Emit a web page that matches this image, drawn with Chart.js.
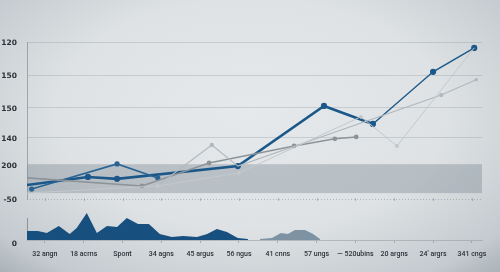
<!DOCTYPE html>
<html>
<head>
<meta charset="utf-8">
<script src="https://cdn.jsdelivr.net/npm/chart.js@4.4.0/dist/chart.umd.min.js"></script>
<style>
  html, body { margin: 0; padding: 0; width: 500px; height: 272px; overflow: hidden; }
  body { background: radial-gradient(ellipse 78% 85% at 50% 42%, #e6e9eb 0%, #dee2e4 50%, #c4cacf 82%, #9ca5ab 100%); }
</style>
</head>
<body>
<canvas id="chart" width="500" height="272"></canvas>
<script>
// axis labels
const xLabels = ['32 angn', '18 acrns', 'Spont', '34 agns', '45 argus', '56 ngus', '41 cnns', '57 ungs', '\u2014 520ubins', '20 argns', "24' argrs", '341 cngs'];
const yLabels = ['-50', '200', '140', '150', '150', '120'];
const yTickVals = [0, 1.1, 1.98, 2.94, 3.98, 5.06];
const bandRange = [0.19, 1.1];

// upper line series (x = category position, y = value)
const mainX = [-0.46, 1.11, 1.86, 4.97, 7.19, 8.45, 10.0, 11.06];
const mainY = [0.45, 0.71, 0.65, 1.06, 3.0, 2.42, 4.1, 4.87];
const blueX = [-0.34, 1.86, 2.91];
const blueY = [0.32, 1.13, 0.68];
const greyX = [-0.46, 2.5, 4.23, 6.42, 7.47, 8.02];
const greyY = [0.68, 0.42, 1.16, 1.71, 1.94, 2.0];
const lightX = [2.89, 4.3, 4.97, 10.21, 11.11];
const lightY = [0.42, 1.74, 1.06, 3.35, 3.84];
const paleX = [-0.46, 2.91, 5.0, 8.14, 9.07, 11.06];
const paleY = [0.19, 0.42, 0.84, 2.65, 1.71, 4.87];

// lower area series
const areaX = [-0.46, -0.18, 0.05, 0.36, 0.64, 0.82, 1.08, 1.34, 1.6, 1.86, 2.11, 2.4, 2.68, 2.96, 3.27, 3.56, 3.92, 4.18, 4.43, 4.69, 4.97, 5.23];
const areaY = [9, 9, 7, 14, 6, 12, 27, 7, 14, 13, 22, 16, 16, 6, 3, 4, 3, 6, 11, 8, 2, 1];
const shadowX = [5.54, 5.85, 6.08, 6.26, 6.44, 6.7, 6.91, 7.09];
const shadowY = [1, 2, 7, 6, 10, 10, 6, 1];

const pts = (xs, ys) => xs.map((x, i) => ({ x: x, y: ys[i] }));

const decor = {
  id: 'decor',
  beforeDatasetsDraw(chart) {
    const { ctx, scales } = chart;
    const x = scales.x, y = scales.y, y2 = scales.y2;
    ctx.save();
    // band
    const top = y.getPixelForValue(bandRange[1]);
    const bot = y.getPixelForValue(bandRange[0]);
    ctx.fillStyle = 'rgba(128,140,152,0.42)';
    ctx.fillRect(x.left, top, x.right - x.left, bot - top);
    // dotted base line of upper plot
    const base = y.getPixelForValue(0);
    ctx.strokeStyle = 'rgba(140,150,158,0.6)';
    ctx.lineWidth = 1;
    ctx.setLineDash([1, 2]);
    ctx.beginPath();
    ctx.moveTo(x.left, base + 0.5);
    ctx.lineTo(x.right, base + 0.5);
    ctx.stroke();
    ctx.setLineDash([]);
    xLabels.forEach((l, i) => {
      const px = Math.round(x.getPixelForValue(i)) + 0.5;
      ctx.beginPath();
      ctx.moveTo(px, base - 1);
      ctx.lineTo(px, base + 2);
      ctx.stroke();
    });
    // short left axis of lower plot
    ctx.strokeStyle = 'rgba(110,120,128,0.7)';
    ctx.beginPath();
    ctx.moveTo(x.left + 0.5, y2.getPixelForValue(22));
    ctx.lineTo(x.left + 0.5, y2.getPixelForValue(0));
    ctx.stroke();
    ctx.restore();
  }
};

const lineStyle = (color, width, radius) => ({
  type: 'line',
  yAxisID: 'y',
  borderColor: color,
  backgroundColor: color,
  borderWidth: width,
  pointRadius: radius,
  pointHoverRadius: radius,
  tension: 0,
  fill: false
});

new Chart(document.getElementById('chart'), {
  type: 'line',
  data: {
    datasets: [
      Object.assign(lineStyle('#c2c8cc', 1, 1.5), { data: pts(paleX, paleY), pointRadius: [0, 1.5, 1.5, 1.5, 1.6, 0] }),
      Object.assign(lineStyle('#b1b8bd', 1.1, 1.5), { data: pts(lightX, lightY), pointRadius: [0, 1.6, 0, 1.6, 1.2] }),
      Object.assign(lineStyle('#8d9499', 1.6, 1.6), { data: pts(greyX, greyY), pointRadius: [0, 1.6, 1.6, 1.6, 1.6, 1.6] }),
      Object.assign(lineStyle('#2a6494', 1.6, 1.8), { data: pts(blueX, blueY) }),
      Object.assign(lineStyle('#1b5889', 2.4, 1.8), {
        data: pts(mainX, mainY),
        pointRadius: [0, 1.9, 1.9, 1.9, 1.9, 1.9, 1.9, 1.9],
        segment: { borderWidth: c => c.p0DataIndex >= 5 ? 1.4 : 2.6 }
      }),
      {
        type: 'line', yAxisID: 'y2', data: pts(shadowX, shadowY),
        borderWidth: 0, pointRadius: 0, tension: 0,
        backgroundColor: '#7d93a4', fill: 'origin'
      },
      {
        type: 'line', yAxisID: 'y2', data: pts(areaX, areaY),
        borderWidth: 0, pointRadius: 0, tension: 0,
        backgroundColor: '#17507f', fill: 'origin'
      }
    ]
  },
  plugins: [decor],
  options: {
    responsive: false,
    animation: false,
    layout: { padding: { top: 42, right: 18, left: 0, bottom: 0 } },
    plugins: { legend: { display: false }, tooltip: { enabled: false } },
    scales: {
      x: {
        type: 'linear', min: -0.46, max: 11.26,
        afterBuildTicks: s => { s.ticks = xLabels.map((l, i) => ({ value: i })); },
        afterFit: s => { s.height = 32; },
        ticks: {
          autoSkip: false, maxRotation: 0, padding: 7,
          color: '#2b3237',
          font: { family: 'Roboto', size: 7, weight: '500' },
          callback: v => xLabels[v]
        },
        grid: { drawOnChartArea: false, drawTicks: true, tickLength: 3, color: 'rgba(130,140,148,0.6)' },
        border: { color: 'rgba(150,160,166,0.6)' }
      },
      y2: {
        type: 'linear', position: 'left', stack: 'v', stackWeight: 41,
        min: 0, max: 41,
        afterBuildTicks: s => { s.ticks = [{ value: 0 }]; },
        afterFit: s => { s.width = 27; },
        ticks: {
          padding: 10, labelOffset: 4, color: '#2b3237',
          font: { family: 'DejaVu Sans', size: 7.5, weight: 'bold' },
          callback: () => '0'
        },
        grid: { display: false, drawTicks: false },
        border: { display: false }
      },
      y: {
        type: 'linear', position: 'left', stack: 'v', stackWeight: 157,
        min: 0, max: 5.06,
        afterBuildTicks: s => { s.ticks = yTickVals.map(v => ({ value: v })); },
        afterFit: s => { s.width = 27; },
        ticks: {
          padding: 10, labelOffset: 1, color: '#2b3237',
          font: { family: 'DejaVu Sans', size: 7.5, weight: 'bold' },
          callback: (v, i) => yLabels[i]
        },
        grid: { drawTicks: false, color: c => c.index === 0 ? 'rgba(0,0,0,0)' : 'rgba(125,135,142,0.28)' },
        border: { color: 'rgba(120,130,138,0.6)' }
      }
    }
  }
});
</script>
</body>
</html>
